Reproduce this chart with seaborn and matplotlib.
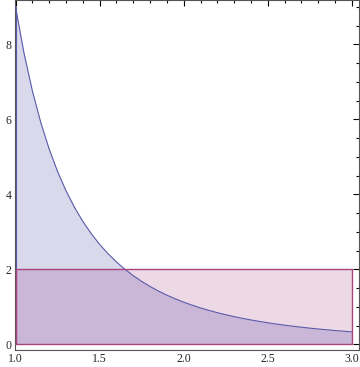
import numpy as np
import pandas as pd
import matplotlib
matplotlib.use("Agg")
import matplotlib.pyplot as plt
import seaborn as sns
from matplotlib.ticker import MultipleLocator

# Curve values
curve_x = [1.00, 1.05, 1.10, 1.15, 1.20, 1.25, 1.30, 1.35, 1.40, 1.45, 1.50,
           1.55, 1.60, 1.65, 1.70, 1.75, 1.80, 1.85, 1.90, 1.95, 2.00,
           2.05, 2.10, 2.15, 2.20, 2.25, 2.30, 2.35, 2.40, 2.45, 2.50,
           2.55, 2.60, 2.65, 2.70, 2.75, 2.80, 2.85, 2.90, 2.95, 3.00]
curve_y = [9.000, 7.775, 6.762, 5.918, 5.208, 4.608, 4.096, 3.658, 3.280, 2.952, 2.667,
           2.417, 2.197, 2.003, 1.832, 1.679, 1.543, 1.421, 1.312, 1.214, 1.125,
           1.045, 0.972, 0.906, 0.845, 0.790, 0.740, 0.693, 0.651, 0.612, 0.576,
           0.543, 0.512, 0.484, 0.457, 0.433, 0.410, 0.389, 0.369, 0.351, 0.333]

# Rectangle (constant level)
rect_x = [1.0, 3.0]
rect_y = [2.0, 2.0]

x_ticks = [1.0, 1.5, 2.0, 2.5, 3.0]
x_labels = ["1.0", "1.5", "2.0", "2.5", "3.0"]
y_ticks = [0, 2, 4, 6, 8]
y_labels = ["0", "2", "4", "6", "8"]

sns.set_style("white")
plt.rcParams['font.family'] = ['Liberation Serif', 'DejaVu Serif']

fig = plt.figure(figsize=(3.6, 3.67), dpi=100)
ax = fig.add_axes([14.5/360, 17/367, (359-14.5)/360, 350/367])

df = pd.DataFrame({"x": curve_x, "y": curve_y})

curve_line = "#5a5aaa"
curve_fill = "#d9d9eb"
rect_edge = "#a8447e"
rect_fill = "#e6c8dc"

ax.fill_between(curve_x, 0, curve_y, color=curve_fill, linewidth=0, zorder=1)
ax.fill_between(rect_x, 0, rect_y, color=rect_fill, alpha=0.7, linewidth=0, zorder=2)
overlap = np.minimum(np.array(curve_y), 2.0)
ax.fill_between(curve_x, 0, overlap, color="#cab7d7", linewidth=0, zorder=2.5)

sns.lineplot(data=df, x="x", y="y", ax=ax, color=curve_line, linewidth=0.8,
             estimator=None, sort=False, zorder=4)
ax.plot([curve_x[0], curve_x[0]], [0, curve_y[0]], color=curve_line, linewidth=0.8, zorder=4)

ax.plot([rect_x[0], rect_x[0], rect_x[1], rect_x[1], rect_x[0]],
        [0, rect_y[0], rect_y[1], 0, 0], color=rect_edge, linewidth=1.0, zorder=5)

ax.set_xlim(0.994, 3.042)
ax.set_ylim(-0.15, 9.18)
ax.set_xlabel("")
ax.set_ylabel("")

ax.set_xticks(x_ticks)
ax.set_xticklabels(x_labels)
ax.set_yticks(y_ticks)
ax.set_yticklabels(y_labels)
ax.xaxis.set_minor_locator(MultipleLocator(0.1))
ax.yaxis.set_minor_locator(MultipleLocator(0.5))

ax.tick_params(which="both", direction="in", top=True, right=True, color="black",
               width=0.8, labelsize=8.5, pad=2)
ax.tick_params(which="major", length=4)
ax.tick_params(which="minor", length=2)
for s in ax.spines.values():
    s.set_color("#555555")
    s.set_linewidth(0.8)

fig.savefig("out.png", dpi=100)
